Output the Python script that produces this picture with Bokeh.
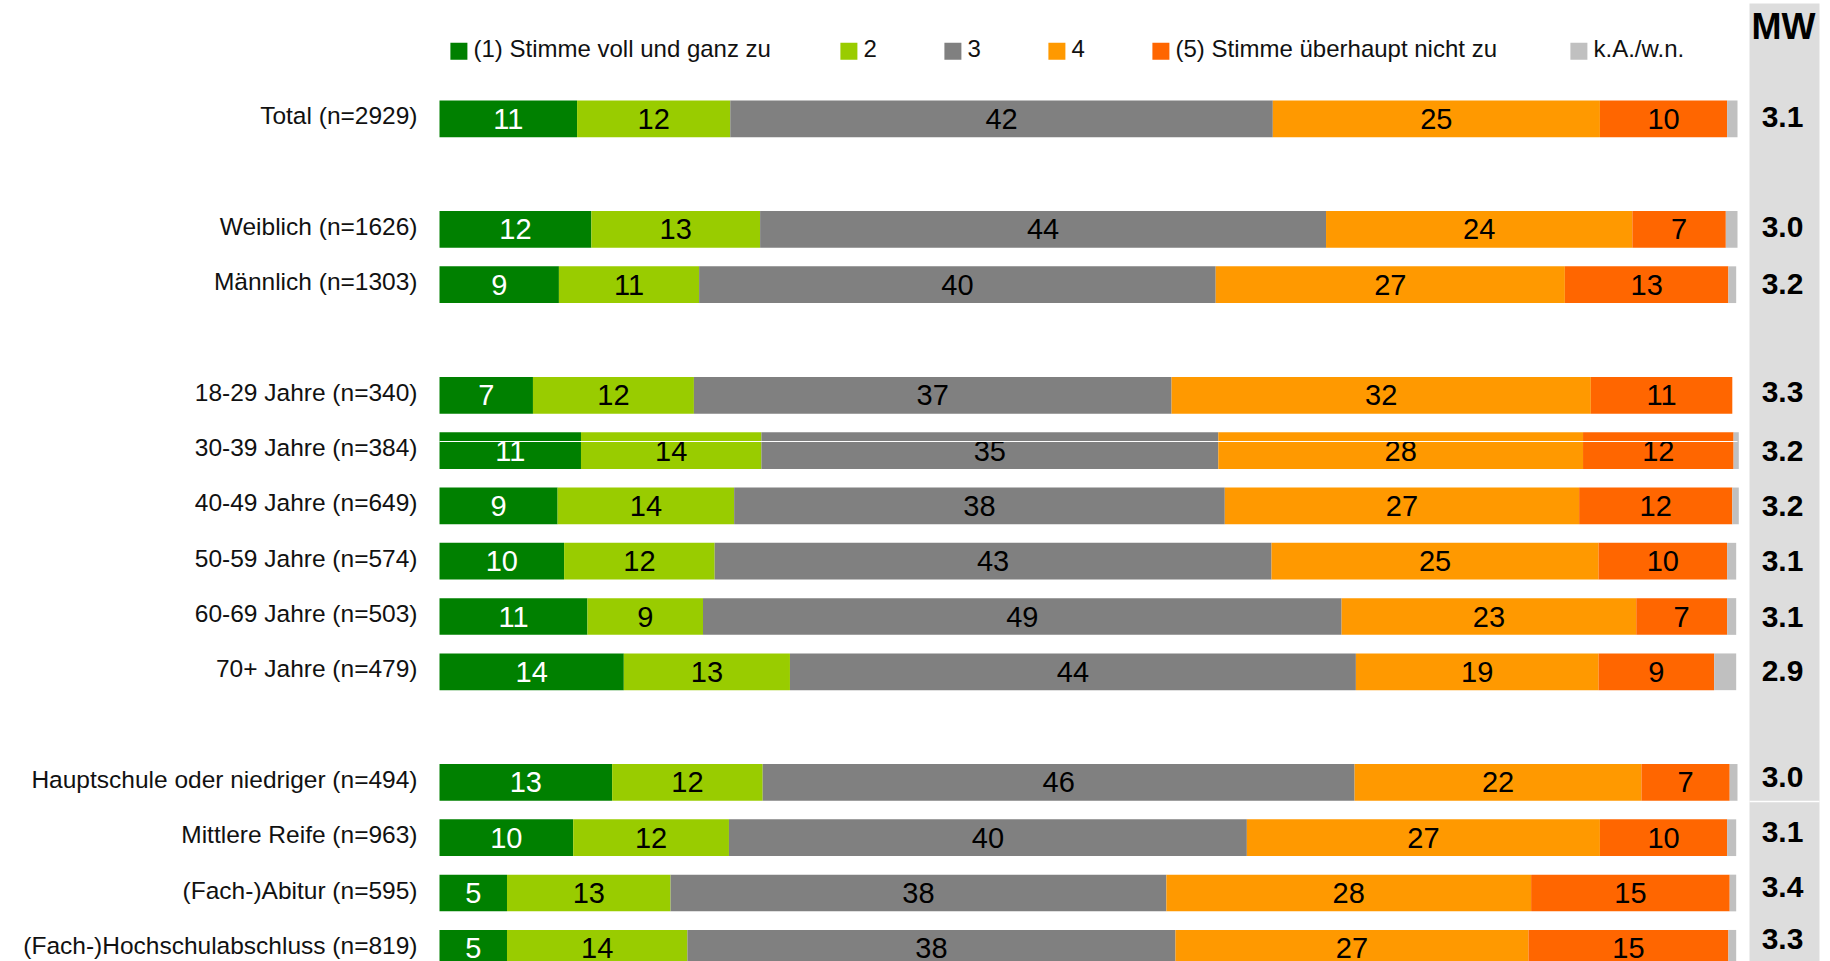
from bokeh.plotting import figure
from bokeh.models import ColumnDataSource, Range1d
from bokeh.core.properties import value
from bokeh.embed import file_html
from bokeh.resources import INLINE

# ---------------- data ----------------
groups = [
    ["Total (n=2929)"],
    ["Weiblich (n=1626)", "Männlich (n=1303)"],
    ["18-29 Jahre (n=340)", "30-39 Jahre (n=384)", "40-49 Jahre (n=649)",
     "50-59 Jahre (n=574)", "60-69 Jahre (n=503)", "70+ Jahre (n=479)"],
    ["Hauptschule oder niedriger (n=494)", "Mittlere Reife (n=963)",
     "(Fach-)Abitur (n=595)", "(Fach-)Hochschulabschluss (n=819)"],
]
series_names = ["(1) Stimme voll und ganz zu", "2", "3", "4",
                "(5) Stimme überhaupt nicht zu", "k.A./w.n."]
s1 = [10.6, 11.7, 9.2, 7.2, 10.9, 9.1, 9.6, 11.4, 14.2, 13.3, 10.3, 5.2, 5.2]
s2 = [11.8, 13.0, 10.8, 12.4, 13.9, 13.6, 11.6, 8.9, 12.8, 11.6, 12.0, 12.6, 13.9]
s3 = [41.8, 43.6, 39.8, 36.8, 35.2, 37.8, 42.9, 49.2, 43.6, 45.6, 39.9, 38.2, 37.6]
s4 = [25.2, 23.6, 26.9, 32.3, 28.1, 27.3, 25.2, 22.7, 18.7, 22.1, 27.2, 28.1, 27.2]
s5 = [9.8, 7.2, 12.6, 10.9, 11.6, 11.8, 9.9, 7.0, 8.9, 6.8, 9.8, 15.3, 15.4]
ka = [0.8, 0.9, 0.6, 0.0, 0.4, 0.5, 0.7, 0.7, 1.7, 0.6, 0.7, 0.5, 0.6]
mw = ["3.1", "3.0", "3.2", "3.3", "3.2", "3.2", "3.1", "3.1", "2.9",
      "3.0", "3.1", "3.4", "3.3"]

# ---------------- styles / layout ----------------
colors = ["#008000", "#99CC00", "#808080", "#FF9900", "#FF6600", "#C0C0C0"]
label_colors = ["white", "black", "black", "black", "black"]
FONT = "Liberation Sans"
mw_nudge = [-2, -2, -1, -3, 0, 0, 0, 0, -1, -5, -6, -6, -9]

labels, slots = [], []
slot = 0
for gi, g in enumerate(groups):
    for lab in g:
        labels.append(lab)
        slots.append(slot)
        slot += 1
    slot += 1  # blank row between groups

W, H = 1830, 961
PX = 12.98           # pixels per percent
X0 = 439             # pixel position of 0 %
ROW = 55.3           # pixels per row slot
Y0 = 118.3           # pixel position of first row


def xd(px):
    return (px - X0) / PX


def yd(py):
    return (py - Y0) / ROW


p = figure(width=W, height=H, output_backend="svg", toolbar_location=None,
           x_range=Range1d(xd(0), xd(W)),
           y_range=Range1d(yd(H), yd(0)),
           min_border=0, min_border_left=0, min_border_right=0,
           min_border_top=0, min_border_bottom=0)
p.axis.visible = False
p.grid.visible = False
p.outline_line_color = None
p.background_fill_color = "white"
p.border_fill_color = "white"

# MW panel
p.quad(left=[xd(1749)], right=[xd(1819)], top=[yd(3)], bottom=[yd(H + 20)],
       fill_color="#DDDDDD", line_color=None)
p.segment(x0=[xd(1749)], x1=[xd(1819)], y0=[yd(801)], y1=[yd(801)],
          line_color="white", line_width=1.5)

# stacked bars
series = [s1, s2, s3, s4, s5, ka]
left = [0.0] * len(labels)
for si, vals in enumerate(series):
    right = [l + v for l, v in zip(left, vals)]
    src = ColumnDataSource(dict(y=slots, left=left, right=right))
    p.hbar(y="y", left="left", right="right", height=0.664, source=src,
           fill_color=colors[si], line_color=None)
    if si < 5:
        tsrc = ColumnDataSource(dict(
            x=[(l + r) / 2 for l, r in zip(left, right)], y=slots,
            t=[f"{round(v):d}" for v in vals]))
        p.text(x="x", y="y", text="t", source=tsrc,
               text_align="center", text_baseline="middle",
               text_font=value(FONT), text_font_size="29px",
               text_color=label_colors[si])
    left = right

# artefact white line across the 30-39 row
p.segment(x0=[0], x1=[100], y0=[yd(441)], y1=[yd(441)],
          line_color="white", line_width=1.2)

# row labels
lsrc = ColumnDataSource(dict(x=[xd(417)] * len(labels), y=slots, t=labels))
p.text(x="x", y="y", text="t", source=lsrc, text_align="right",
       text_baseline="middle", y_offset=-3,
       text_font=value(FONT), text_font_size="24.5px", text_color="#111111")

# MW values
msrc = ColumnDataSource(dict(x=[xd(1782)] * len(mw), y=slots, t=mw, dy=mw_nudge))
p.text(x="x", y="y", text="t", source=msrc, text_align="center",
       text_baseline="middle", y_offset="dy",
       text_font=value(FONT), text_font_size="30px", text_font_style="bold",
       text_color="black")
p.text(x=[xd(1783)], y=[yd(26)], text=["MW"],
       text_align="center", text_baseline="middle",
       text_font=value(FONT), text_font_size="36px", text_font_style="bold",
       text_color="black")

# legend
leg_sq = [450, 840, 944, 1048, 1152, 1570]
leg_y = yd(50.7)
for i, name in enumerate(series_names):
    p.rect(x=[xd(leg_sq[i] + 8.4)], y=[leg_y], width=17, height=17,
           width_units="screen", height_units="screen",
           fill_color=colors[i], line_color=None)
    p.text(x=[xd(leg_sq[i] + 23)], y=[leg_y], text=[name],
           text_align="left", text_baseline="middle", y_offset=-3,
           text_font=value(FONT), text_font_size="24px", text_color="#111111")

open("out.html", "w").write(file_html(p, INLINE))
